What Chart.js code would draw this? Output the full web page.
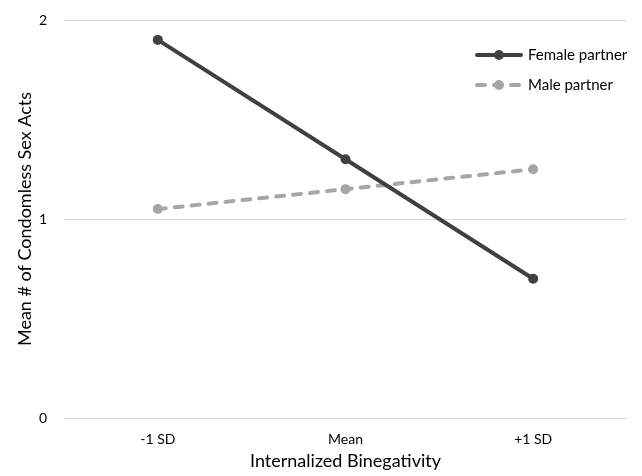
<!DOCTYPE html>
<html>
<head>
<meta charset="utf-8">
<script src="https://cdn.jsdelivr.net/npm/chart.js@4"></script>
<style>
  html, body { margin: 0; padding: 0; background: #fff; }
  #wrap { width: 642px; height: 476px; }
</style>
</head>
<body>
<div id="wrap"><canvas id="grafico" width="642" height="476"></canvas></div>
<script>
// ── DATOS ─────────────────────────────────────────────
const categorias = ['-1 SD', 'Mean', '+1 SD'];
const femenino   = [1.9, 1.3, 0.7];
const masculino  = [1.05, 1.15, 1.25];
const ticksY     = [0, 1, 2];

const FUENTE = "Lato, 'Open Sans', sans-serif";

// leyenda dibujada dentro del área del gráfico
const leyendaInterna = {
    id: 'leyendaInterna',
    afterDraw(chart) {
        const ctx = chart.ctx;
        const items = chart.data.datasets;
        ctx.save();
        items.forEach((ds, i) => {
            const y = 55 + i * 30;
            const x0 = 477, x1 = 521;
            ctx.strokeStyle = ds.borderColor;
            ctx.lineWidth = ds.borderWidth;
            ctx.lineCap = ds.borderCapStyle || 'butt';
            ctx.setLineDash(ds.borderDash || []);
            ctx.beginPath();
            ctx.moveTo(x0, y);
            ctx.lineTo(x1, y);
            ctx.stroke();
            ctx.setLineDash([]);
            ctx.fillStyle = ds.pointBackgroundColor;
            ctx.beginPath();
            ctx.arc((x0 + x1) / 2, y, 5, 0, Math.PI * 2);
            ctx.fill();
            ctx.fillStyle = '#000';
            ctx.font = '15px ' + FUENTE;
            ctx.textBaseline = 'middle';
            ctx.textAlign = 'left';
            ctx.fillText(ds.label, 528, y);
        });
        ctx.restore();
    }
};

new Chart(document.getElementById('grafico').getContext('2d'), {
    type: 'line',
    data: {
        labels: categorias,
        datasets: [
            {
                label: 'Female partner',
                data: femenino,
                borderColor: '#404040',
                backgroundColor: '#404040',
                pointBackgroundColor: '#404040',
                pointBorderWidth: 0,
                pointRadius: 5,
                borderWidth: 4,
                borderCapStyle: 'round',
                tension: 0
            },
            {
                label: 'Male partner',
                data: masculino,
                borderColor: '#a6a6a6',
                backgroundColor: '#a6a6a6',
                pointBackgroundColor: '#a6a6a6',
                pointBorderWidth: 0,
                pointRadius: 5,
                borderWidth: 4,
                borderCapStyle: 'round',
                borderDash: [8, 9],
                tension: 0
            }
        ]
    },
    options: {
        responsive: false,
        animation: false,
        layout: { autoPadding: false, padding: { top: 20, right: 15, left: 0, bottom: 0 } },
        plugins: { legend: { display: false }, tooltip: { enabled: false } },
        scales: {
            x: {
                offset: true,
                grid: { display: false, drawTicks: false },
                border: { display: false },
                ticks: { color: '#000', font: { family: FUENTE, size: 14 }, padding: 13 },
                title: {
                    display: true,
                    text: 'Internalized Binegativity',
                    color: '#000',
                    font: { family: FUENTE, size: 18 },
                    padding: { top: 1 }
                },
                afterFit(s) { s.height = 58; }
            },
            y: {
                min: 0,
                max: 2,
                afterBuildTicks(s) { s.ticks = ticksY.map(v => ({ value: v })); },
                grid: { color: '#d9d9d9', drawTicks: false, lineWidth: 1 },
                border: { display: false },
                ticks: { color: '#000', font: { family: FUENTE, size: 14 }, padding: 17 },
                title: {
                    display: true,
                    text: 'Mean # of Condomless Sex Acts',
                    color: '#000',
                    font: { family: FUENTE, size: 18 },
                    padding: { top: 14, bottom: 0 }
                },
                afterFit(s) { s.width = 64; s.paddingTop = 0; s.paddingBottom = 0; }
            }
        }
    },
    plugins: [leyendaInterna]
});
</script>
</body>
</html>
